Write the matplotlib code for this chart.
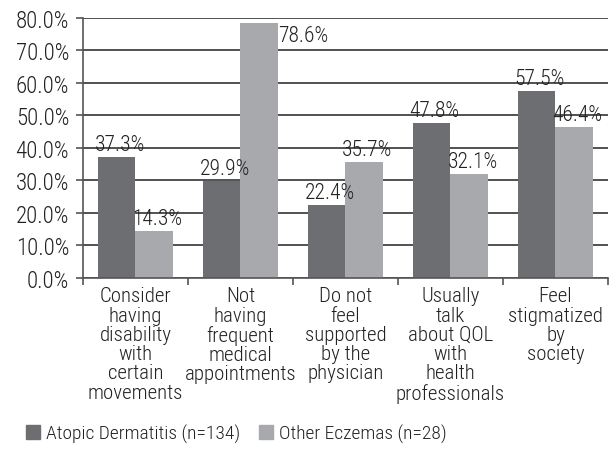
import numpy as np
import matplotlib
matplotlib.use("Agg")
import matplotlib.pyplot as plt
from matplotlib.patches import Patch
from matplotlib.ticker import FuncFormatter, FixedLocator

# data
categories = [
    "Consider\nhaving\ndisability\nwith\ncertain\nmovements",
    "Not\nhaving\nfrequent\nmedical\nappointments",
    "Do not\nfeel\nsupported\nby the\nphysician",
    "Usually\ntalk\nabout QOL\nwith\nhealth\nprofessionals",
    "Feel\nstigmatized\nby\nsociety",
]
atopic = [37.3, 29.9, 22.4, 47.8, 57.5]
other = [14.3, 78.6, 35.7, 32.1, 46.4]
series_names = ["Atopic Dermatitis (n=134)", "Other Eczemas (n=28)"]
yticks = [0, 10, 20, 30, 40, 50, 60, 70, 80]

dark = "#6d6e71"
light = "#a7a9ac"
txt = "#222222"
plt.rcParams['font.family'] = ['Roboto Condensed', 'DejaVu Sans']
plt.rcParams['font.weight'] = 'light'
plt.rcParams['font.size'] = 15

fig = plt.figure(figsize=(6.16, 4.52), dpi=100)
ax = fig.add_axes([0.1347, 0.383, 0.987 - 0.1347, 0.958 - 0.383])

x = np.arange(len(categories))
w = 0.36
b1 = ax.bar(x - w / 2, atopic, w, color=dark, zorder=2)
b2 = ax.bar(x + w / 2, other, w, color=light, zorder=2)

# value labels
for bars, vals in ((b1, atopic), (b2, other)):
    for r, v in zip(bars, vals):
        cx = r.get_x() + r.get_width() / 2
        if v > 75:
            # no room above, put it beside the bar top
            ax.text(r.get_x() + r.get_width(), v - 0.8, "%.1f%%" % v, ha='left', va='top',
                    color=txt, fontsize=15.5, zorder=3)
        else:
            ax.text(cx + 0.03, v + 0.6, "%.1f%%" % v, ha='center', va='bottom',
                    color=txt, fontsize=15.5, zorder=3)

ax.set_xlim(-0.5, len(categories) - 0.5)
ax.set_ylim(0, 80)
ax.set_yticks(yticks)
ax.yaxis.set_major_formatter(FuncFormatter(lambda v, p: "%.1f%%" % v))
ax.yaxis.grid(True, color="#333333", linewidth=1.2, zorder=0)
ax.set_axisbelow(True)

ax.set_xticks(x)
ax.set_xticklabels(categories, linespacing=1.02, color=txt, va='top')
ax.tick_params(axis='x', which='major', length=0, pad=6)
ax.xaxis.set_minor_locator(FixedLocator(np.arange(-0.5, len(categories), 1.0)))
ax.tick_params(axis='x', which='minor', length=5, width=1.2, color="#555555", direction='out')
ax.tick_params(axis='y', length=5, width=1.2, color="#555555", labelcolor=txt, pad=5,
               labelsize=16.5)

for s in ('top', 'right'):
    ax.spines[s].set_visible(False)
ax.spines['left'].set_color("#555555")
ax.spines['left'].set_linewidth(1.2)
ax.spines['bottom'].set_color("#555555")
ax.spines['bottom'].set_linewidth(1.2)

handles = [Patch(color=dark), Patch(color=light)]
fig.legend(handles, series_names, loc='center left', bbox_to_anchor=(0.03, 0.038),
           frameon=False, ncol=2, handlelength=0.7, handleheight=0.7, handletextpad=0.3,
           columnspacing=1.0, labelcolor=txt, borderaxespad=0, fontsize=14)

fig.savefig("out.png", dpi=100)
